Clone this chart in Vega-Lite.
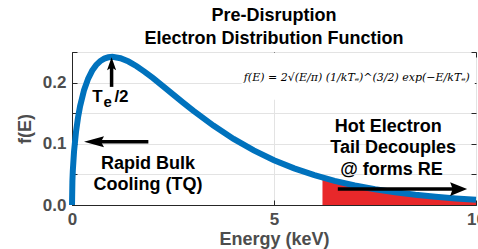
{
  "$schema": "https://vega.github.io/schema/vega-lite/v6.json",
  "width": 404,
  "height": 153,
  "autosize": "none",
  "padding": {"left": 72, "top": 52, "right": 2, "bottom": 44},
  "background": "white",
  "title": {
    "text": ["Pre-Disruption", "Electron Distribution Function"],
    "font": "Liberation Sans",
    "fontSize": 18,
    "fontWeight": "bold",
    "color": "#000000",
    "lineHeight": 23,
    "offset": -3,
    "anchor": "middle"
  },
  "config": {
    "view": {"stroke": "#262626", "strokeWidth": 1},
    "axis": {
      "labelFont": "Liberation Sans",
      "labelFontSize": 17,
      "labelFontWeight": "bold",
      "labelColor": "#4d4d4d",
      "labelFlush": false,
      "titleFont": "Liberation Sans",
      "titleFontSize": 18,
      "titleFontWeight": "bold",
      "titleColor": "#4d4d4d",
      "domainColor": "#262626",
      "tickColor": "#262626",
      "gridColor": "#e3e3e3",
      "tickSize": -5
    },
    "text": {"font": "Liberation Sans"}
  },
  "datasets": {
    "curve": [
      {"E": 0, "f": 0},
      {"E": 0.01, "f": 0.0395},
      {"E": 0.02, "f": 0.0559},
      {"E": 0.05, "f": 0.087},
      {"E": 0.1, "f": 0.12},
      {"E": 0.15, "f": 0.1433},
      {"E": 0.2, "f": 0.1614},
      {"E": 0.3, "f": 0.1881},
      {"E": 0.4, "f": 0.2066},
      {"E": 0.5, "f": 0.2197},
      {"E": 0.6, "f": 0.2289},
      {"E": 0.7, "f": 0.2352},
      {"E": 0.8, "f": 0.2392},
      {"E": 0.9, "f": 0.2413},
      {"E": 1.0, "f": 0.242},
      {"E": 1.2, "f": 0.2398},
      {"E": 1.4, "f": 0.2344},
      {"E": 1.6, "f": 0.2267},
      {"E": 1.8, "f": 0.2176},
      {"E": 2.0, "f": 0.2076},
      {"E": 2.25, "f": 0.1943},
      {"E": 2.5, "f": 0.1807},
      {"E": 2.75, "f": 0.1673},
      {"E": 3.0, "f": 0.1542},
      {"E": 3.5, "f": 0.1297},
      {"E": 4.0, "f": 0.108},
      {"E": 4.5, "f": 0.0892},
      {"E": 5.0, "f": 0.0732},
      {"E": 5.5, "f": 0.0598},
      {"E": 6.0, "f": 0.0487},
      {"E": 6.5, "f": 0.0394},
      {"E": 7.0, "f": 0.0319},
      {"E": 7.5, "f": 0.0257},
      {"E": 8.0, "f": 0.0207},
      {"E": 8.5, "f": 0.0166},
      {"E": 9.0, "f": 0.0133},
      {"E": 9.5, "f": 0.0106},
      {"E": 10.0, "f": 0.0085}
    ],
    "tail": [
      {"E": 6.2, "f": 0.0448},
      {"E": 6.5, "f": 0.0394},
      {"E": 7.0, "f": 0.0319},
      {"E": 7.5, "f": 0.0257},
      {"E": 8.0, "f": 0.0207},
      {"E": 8.5, "f": 0.0166},
      {"E": 9.0, "f": 0.0133},
      {"E": 9.5, "f": 0.0106},
      {"E": 10.0, "f": 0.0085}
    ],
    "box": [{"x": 4.2, "x2": 9.97, "y": 0.172, "y2": 0.2485}],
    "shafts": [
      {"x": 0.98, "x2": 0.98, "y": 0.193, "y2": 0.231},
      {"x": 0.56, "x2": 1.89, "y": 0.1034, "y2": 0.1034},
      {"x": 6.58, "x2": 9.57, "y": 0.026, "y2": 0.026}
    ],
    "labels": [
      {"t": "Rapid Bulk", "E": 1.88, "f": 0.0583},
      {"t": "Cooling (TQ)", "E": 1.88, "f": 0.0253},
      {"t": "Hot Electron", "E": 7.83, "f": 0.119},
      {"t": "Tail Decouples", "E": 7.95, "f": 0.0845},
      {"t": "@ forms RE", "E": 7.91, "f": 0.049}
    ],
    "te": [
      {"t": "T", "E": 0.63, "f": 0.168},
      {"t": "/2", "E": 1.225, "f": 0.168}
    ],
    "sub": [{"t": "e", "E": 0.88, "f": 0.16}],
    "formula": [{"t": "f(E) = 2√(E/π) (1/kTₑ)^(3/2) exp(−E/kTₑ)", "E": 7.05, "f": 0.2075}]
  },
  "resolve": {"axis": {"x": "independent", "y": "independent"}},
  "layer": [
    {
      "data": {"name": "box"},
      "mark": {"type": "rect", "color": "white"},
      "encoding": {
        "x": {"field": "x", "type": "quantitative", "scale": {"domain": [0, 10], "nice": false},
          "axis": {"values": [0, 5, 10], "title": "Energy (keV)", "grid": true, "labelPadding": 11, "titlePadding": 3}},
        "x2": {"field": "x2"},
        "y": {"field": "y", "type": "quantitative", "scale": {"domain": [0, 0.25], "nice": false},
          "axis": {"values": [0, 0.05, 0.1, 0.15, 0.2, 0.25], "title": "f(E)", "grid": true, "labelPadding": 11, "titlePadding": 8,
            "labelExpr": "round(datum.value * 20) % 2 == 0 ? format(datum.value, '.1f') : ''"}},
        "y2": {"field": "y2"}
      }
    },
    {
      "data": {"name": "tail"},
      "mark": {"type": "area", "color": "#E8282A", "opacity": 1},
      "encoding": {
        "x": {"field": "E", "type": "quantitative",
          "axis": {"orient": "top", "values": [0, 5, 10], "labels": false, "title": null, "grid": false, "domain": false}},
        "y": {"field": "f", "type": "quantitative",
          "axis": {"orient": "right", "values": [0, 0.05, 0.1, 0.15, 0.2, 0.25], "labels": false, "title": null, "grid": false, "domain": false}}
      }
    },
    {
      "data": {"name": "curve"},
      "mark": {"type": "line", "color": "#0072BD", "strokeWidth": 6, "strokeCap": "butt"},
      "encoding": {
        "x": {"field": "E", "type": "quantitative", "axis": null},
        "y": {"field": "f", "type": "quantitative", "axis": null}
      }
    },
    {
      "data": {"name": "shafts"},
      "mark": {"type": "rule", "color": "black", "strokeWidth": 3.5},
      "encoding": {
        "x": {"field": "x", "type": "quantitative", "axis": null},
        "x2": {"field": "x2"},
        "y": {"field": "y", "type": "quantitative", "axis": null},
        "y2": {"field": "y2"}
      }
    },
    {
      "data": {"values": [{"E": 0.98, "f": 0.231}]},
      "mark": {"type": "point", "shape": "M0,-1L-0.7,1L0,0.6L0.7,1Z", "size": 169, "filled": true, "color": "black", "opacity": 1},
      "encoding": {
        "x": {"field": "E", "type": "quantitative", "axis": null},
        "y": {"field": "f", "type": "quantitative", "axis": null}
      }
    },
    {
      "data": {"values": [{"E": 0.545, "f": 0.1034}]},
      "mark": {"type": "point", "shape": "M-1,0L1,-0.55L0.7,0L1,0.55Z", "size": 400, "filled": true, "color": "black", "opacity": 1},
      "encoding": {
        "x": {"field": "E", "type": "quantitative", "axis": null},
        "y": {"field": "f", "type": "quantitative", "axis": null}
      }
    },
    {
      "data": {"values": [{"E": 9.57, "f": 0.026}]},
      "mark": {"type": "point", "shape": "M1,0L-1,-0.8L-0.7,0L-1,0.8Z", "size": 289, "filled": true, "color": "black", "opacity": 1},
      "encoding": {
        "x": {"field": "E", "type": "quantitative", "axis": null},
        "y": {"field": "f", "type": "quantitative", "axis": null}
      }
    },
    {
      "data": {"name": "labels"},
      "mark": {"type": "text", "fontSize": 18, "fontWeight": "bold", "color": "black", "baseline": "alphabetic", "align": "center"},
      "encoding": {
        "x": {"field": "E", "type": "quantitative", "axis": null},
        "y": {"field": "f", "type": "quantitative", "axis": null},
        "text": {"field": "t"}
      }
    },
    {
      "data": {"name": "te"},
      "mark": {"type": "text", "fontSize": 17, "fontWeight": "bold", "color": "black", "baseline": "alphabetic", "align": "center"},
      "encoding": {
        "x": {"field": "E", "type": "quantitative", "axis": null},
        "y": {"field": "f", "type": "quantitative", "axis": null},
        "text": {"field": "t"}
      }
    },
    {
      "data": {"name": "sub"},
      "mark": {"type": "text", "fontSize": 15, "fontWeight": "bold", "color": "black", "baseline": "alphabetic", "align": "center"},
      "encoding": {
        "x": {"field": "E", "type": "quantitative", "axis": null},
        "y": {"field": "f", "type": "quantitative", "axis": null},
        "text": {"field": "t"}
      }
    },
    {
      "data": {"name": "formula"},
      "mark": {"type": "text", "font": "DejaVu Serif", "fontSize": 11, "fontStyle": "italic", "color": "black", "baseline": "middle", "align": "center"},
      "encoding": {
        "x": {"field": "E", "type": "quantitative", "axis": null},
        "y": {"field": "f", "type": "quantitative", "axis": null},
        "text": {"field": "t"}
      }
    }
  ]
}
